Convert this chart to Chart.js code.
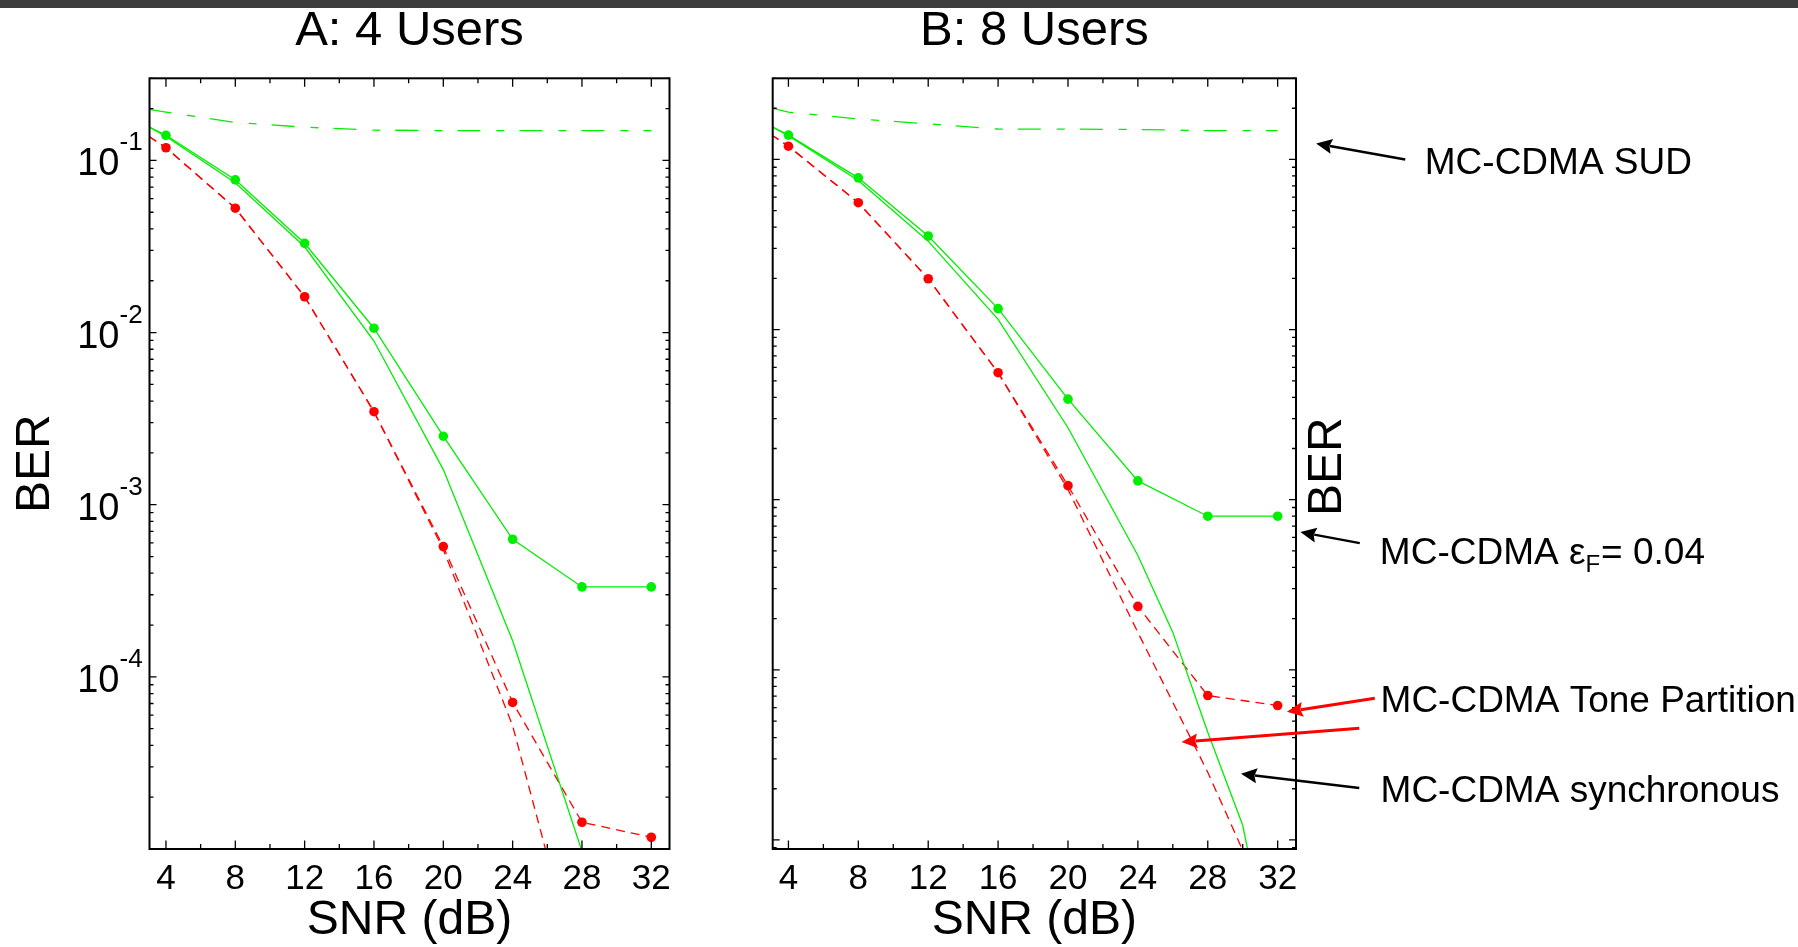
<!DOCTYPE html>
<html>
<head>
<meta charset="utf-8">
<script src="https://cdn.jsdelivr.net/npm/chart.js@4.4.0/dist/chart.umd.min.js"></script>
<style>
  html, body { margin: 0; padding: 0; background: #fff; overflow: hidden; }
  #bar { position: absolute; left: 0; top: 0; width: 1798px; height: 8px; background: #3d3d3d; z-index: 2; }
  canvas { position: absolute; top: 0; }
  #chartA { left: 0; }
  #chartB { left: 700px; }
</style>
</head>
<body>
<div id="bar"></div>
<canvas id="chartA" width="700" height="950"></canvas>
<canvas id="chartB" width="1098" height="950"></canvas>
<script>
const FAMILY = '"Liberation Sans", Arial, Helvetica, sans-serif';
Chart.defaults.font.family = FAMILY;
Chart.defaults.color = '#000';

// SNR in dB; 3 dB is where each curve enters the left edge of the box
const snr = [3, 4, 8, 12, 16, 20, 24, 28, 32];
const snrTailA = [3, 4, 8, 12, 16, 20, 24, 28];
const snrSyncB = [3, 4, 8, 12, 16, 20, 24, 26, 28, 30, 32];
const snrTp2B = [3, 4, 8, 12, 16, 20, 24, 28, 30, 32];

// A: 4 users
const sudA = [0.198, 0.191, 0.166, 0.156, 0.150, 0.149, 0.149, 0.149, 0.149];
const cfoA = [0.157, 0.140, 0.0772, 0.033, 0.0106, 0.0025, 6.3e-4, 3.33e-4, 3.33e-4];
const syncA = [0.157, 0.138, 0.0742, 0.0315, 0.00893, 0.0016, 1.62e-4, 9.7e-6];
const tpA = [0.138, 0.1185, 0.0528, 0.01615, 0.00347, 5.71e-4, 7.1e-5, 1.43e-5, 1.17e-5];
const tp2A = [0.138, 0.1185, 0.0528, 0.01615, 0.00347, 5.5e-4, 5.2e-5, 1.6e-6];

// B: 8 users
const sudB = [0.201, 0.190, 0.173, 0.162, 0.151, 0.1508, 0.150, 0.1476, 0.1476];
const cfoB = [0.157, 0.139, 0.078, 0.0355, 0.01328, 0.0039, 0.00129, 8.0e-4, 8.0e-4];
const syncB = [0.157, 0.138, 0.0753, 0.0331, 0.01148, 0.00265, 4.7e-4, 1.66e-4, 4.3e-5, 1.22e-5, 1.2e-6];
const tpB = [0.140, 0.1197, 0.0557, 0.0199, 0.00558, 0.00121, 2.36e-4, 7.06e-5, 6.17e-5];
const tp2B = [0.140, 0.1197, 0.0557, 0.0199, 0.00558, 0.00115, 1.66e-4, 2.5e-5, 8.7e-6, 3.8e-6];

// axis ticks
const xTickVals = [4, 6, 8, 10, 12, 14, 16, 18, 20, 22, 24, 26, 28, 30, 32];
const xLabelVals = [4, 8, 12, 16, 20, 24, 28, 32];
const yLabelExps = [-1, -2, -3, -4];

const GREEN = '#00ee00';
const RED = '#ff0000';

function logTicks(min, max) {
  const out = [];
  for (let e = Math.floor(Math.log10(min)); e <= 0; e++) {
    for (let m = 1; m <= 9; m++) {
      const v = m * Math.pow(10, e);
      if (v >= min * 0.9999 && v <= max * 1.0001) out.push({value: v, major: m === 1});
    }
  }
  return out;
}

function series(xs, ys, color, extra) {
  return Object.assign({
    data: xs.map((x, i) => ({x: x, y: ys[i]})),
    borderColor: color,
    backgroundColor: color,
    pointBackgroundColor: color,
    borderWidth: 1.3,
    pointRadius: 0,
    pointBorderWidth: 0,
    tension: 0,
    clip: 0
  }, extra || {});
}

const dots = xs => xs.map(x => (x < 4 ? 0 : 4.8));

function arrow(ctx, x1, y1, x2, y2, color, width, len, half) {
  const a = Math.atan2(y2 - y1, x2 - x1);
  const c = Math.cos(a), s = Math.sin(a);
  const bx = x2 - len * c, by = y2 - len * s;
  ctx.strokeStyle = color;
  ctx.fillStyle = color;
  ctx.lineWidth = width;
  ctx.beginPath();
  ctx.moveTo(x1, y1);
  ctx.lineTo(bx + 2 * c, by + 2 * s);
  ctx.stroke();
  ctx.beginPath();
  ctx.moveTo(x2, y2);
  ctx.lineTo(bx + half * s, by - half * c);
  ctx.lineTo(bx + 0.15 * len * c, by + 0.15 * len * s);
  ctx.lineTo(bx - half * s, by + half * c);
  ctx.closePath();
  ctx.fill();
}

// box, inward ticks, 10^k labels and the callouts on the right
const decor = {
  id: 'decor',
  afterDatasetsDraw(chart, args, opts) {
    const {ctx, chartArea: a, scales: {x, y}} = chart;
    ctx.save();
    ctx.strokeStyle = '#000';
    ctx.lineWidth = 1.3;
    ctx.beginPath();
    x.ticks.forEach(t => {
      const px = x.getPixelForValue(t.value);
      const len = xLabelVals.includes(t.value) ? 8.5 : 5;
      ctx.moveTo(px, a.bottom); ctx.lineTo(px, a.bottom - len);
      ctx.moveTo(px, a.top); ctx.lineTo(px, a.top + len);
    });
    y.ticks.forEach(t => {
      const py = y.getPixelForValue(t.value);
      const len = t.major ? 7 : 4;
      ctx.moveTo(a.left, py); ctx.lineTo(a.left + len, py);
      ctx.moveTo(a.right, py); ctx.lineTo(a.right - len, py);
    });
    ctx.stroke();
    ctx.lineWidth = 2;
    ctx.strokeRect(a.left, a.top, a.right - a.left, a.bottom - a.top);

    ctx.fillStyle = '#000';
    ctx.textBaseline = 'alphabetic';
    if (opts.powerLabels) {
      yLabelExps.forEach(e => {
        const py = y.getPixelForValue(Math.pow(10, e));
        ctx.font = '38px ' + FAMILY;
        ctx.textAlign = 'right';
        ctx.fillText('10', a.left - 30, py + 15);
        ctx.font = '26px ' + FAMILY;
        ctx.textAlign = 'left';
        ctx.fillText(String(e), a.left - 30, py - 10);
      });
    }

    if (opts.callouts) {
      ctx.save();
      ctx.translate(a.right + 31.5, (a.top + a.bottom) / 2 + 3);
      ctx.rotate(-Math.PI / 2);
      ctx.font = '48px ' + FAMILY;
      ctx.textAlign = 'center';
      ctx.textBaseline = 'middle';
      ctx.fillText('BER', 0, 0);
      ctx.restore();

      opts.callouts.arrows.forEach(r => {
        arrow(ctx, x.getPixelForValue(r.from[0]), y.getPixelForValue(r.from[1]),
          x.getPixelForValue(r.to[0]), y.getPixelForValue(r.to[1]),
          r.color, r.color === RED ? 3 : 2.4, 16, 7.5);
      });
      ctx.fillStyle = '#000';
      ctx.textAlign = 'left';
      ctx.textBaseline = 'alphabetic';
      opts.callouts.notes.forEach(n => {
        let tx = x.getPixelForValue(n.at[0]);
        const ty = y.getPixelForValue(n.at[1]);
        n.parts.forEach(p => {
          ctx.font = p[1] + 'px ' + FAMILY;
          ctx.fillText(p[0], tx, ty + p[2]);
          tx += ctx.measureText(p[0]).width + (p[2] ? 1 : 0);
        });
      });
    }
    ctx.restore();
  }
};

function panel(id, cfg) {
  return new Chart(document.getElementById(id), {
    type: 'line',
    data: {datasets: cfg.datasets},
    plugins: [decor],
    options: {
      responsive: false,
      animation: false,
      devicePixelRatio: 1,
      events: [],
      layout: {padding: {left: 0, right: cfg.padRight, top: 0, bottom: 0}},
      plugins: {
        legend: {display: false},
        tooltip: {enabled: false},
        title: {
          display: true,
          text: cfg.title,
          fullSize: false,
          color: '#000',
          font: {size: 49, weight: 'normal'},
          padding: {top: 2, bottom: 17.5}
        },
        decor: {powerLabels: cfg.powerLabels, callouts: cfg.callouts}
      },
      scales: {
        x: {
          type: 'linear',
          min: cfg.xMin,
          max: 33.05,
          afterBuildTicks: s => { s.ticks = xTickVals.map(v => ({value: v})); },
          afterFit: s => { s.height = 101; },
          grid: {display: false},
          border: {display: false},
          ticks: {
            autoSkip: false,
            maxRotation: 0,
            padding: 1,
            color: '#000',
            font: {size: 35},
            callback: v => (xLabelVals.includes(v) ? String(v) : '')
          },
          title: {display: true, text: 'SNR (dB)', color: '#000', font: {size: 48}, padding: 0}
        },
        y: {
          type: 'logarithmic',
          min: cfg.yMin,
          max: 0.3,
          afterBuildTicks: s => { s.ticks = logTicks(s.min, s.max); },
          afterFit: s => { s.width = cfg.yWidth; },
          grid: {display: false},
          border: {display: false},
          ticks: {display: false},
          title: {display: cfg.powerLabels, text: 'BER', color: '#000', font: {size: 48}, padding: {top: 7}}
        }
      }
    }
  });
}

panel('chartA', {
  title: 'A: 4 Users',
  xMin: 3.05,
  yMin: 1e-5,
  yWidth: 149.5,
  padRight: 30.5,
  powerLabels: true,
  callouts: null,
  datasets: [
    series(snr, sudA, GREEN, {borderDash: [23, 16, 8, 15]}),
    series(snr, cfoA, GREEN, {pointRadius: dots(snr)}),
    series(snrTailA, syncA, GREEN),
    series(snr, tpA, RED, {borderDash: [9, 6], pointRadius: dots(snr)}),
    series(snrTailA, tp2A, RED, {borderDash: [9, 6]})
  ]
});

panel('chartB', {
  title: 'B: 8 Users',
  xMin: 3.1,
  yMin: 8.85e-6,
  yWidth: 72.7,
  padRight: 502,
  powerLabels: false,
  callouts: {
    arrows: [
      {from: [39.3, 0.1], to: [34.2, 0.124], color: '#000'},
      {from: [36.7, 5.56e-4], to: [33.3, 6.45e-4], color: '#000'},
      {from: [37.56, 6.8e-5], to: [32.53, 5.67e-5], color: RED},
      {from: [36.67, 4.54e-5], to: [26.5, 3.76e-5], color: RED},
      {from: [36.67, 2.02e-5], to: [29.9, 2.45e-5], color: '#000'}
    ],
    notes: [
      {at: [40.42, 0.0816], parts: [['MC-CDMA SUD', 37, 0]]},
      {at: [37.85, 4.19e-4], parts: [['MC-CDMA \u03b5', 37, 0], ['F', 24, 8], ['= 0.04', 37, 0]]},
      {at: [37.89, 5.67e-5], parts: [['MC-CDMA Tone Partition', 37, 0]]},
      {at: [37.89, 1.67e-5], parts: [['MC-CDMA synchronous', 37, 0]]}
    ]
  },
  datasets: [
    series(snr, sudB, GREEN, {borderDash: [23, 16, 8, 15]}),
    series(snr, cfoB, GREEN, {pointRadius: dots(snr)}),
    series(snrSyncB, syncB, GREEN),
    series(snr, tpB, RED, {borderDash: [9, 6], pointRadius: dots(snr)}),
    series(snrTp2B, tp2B, RED, {borderDash: [9, 6]})
  ]
});
</script>
</body>
</html>
